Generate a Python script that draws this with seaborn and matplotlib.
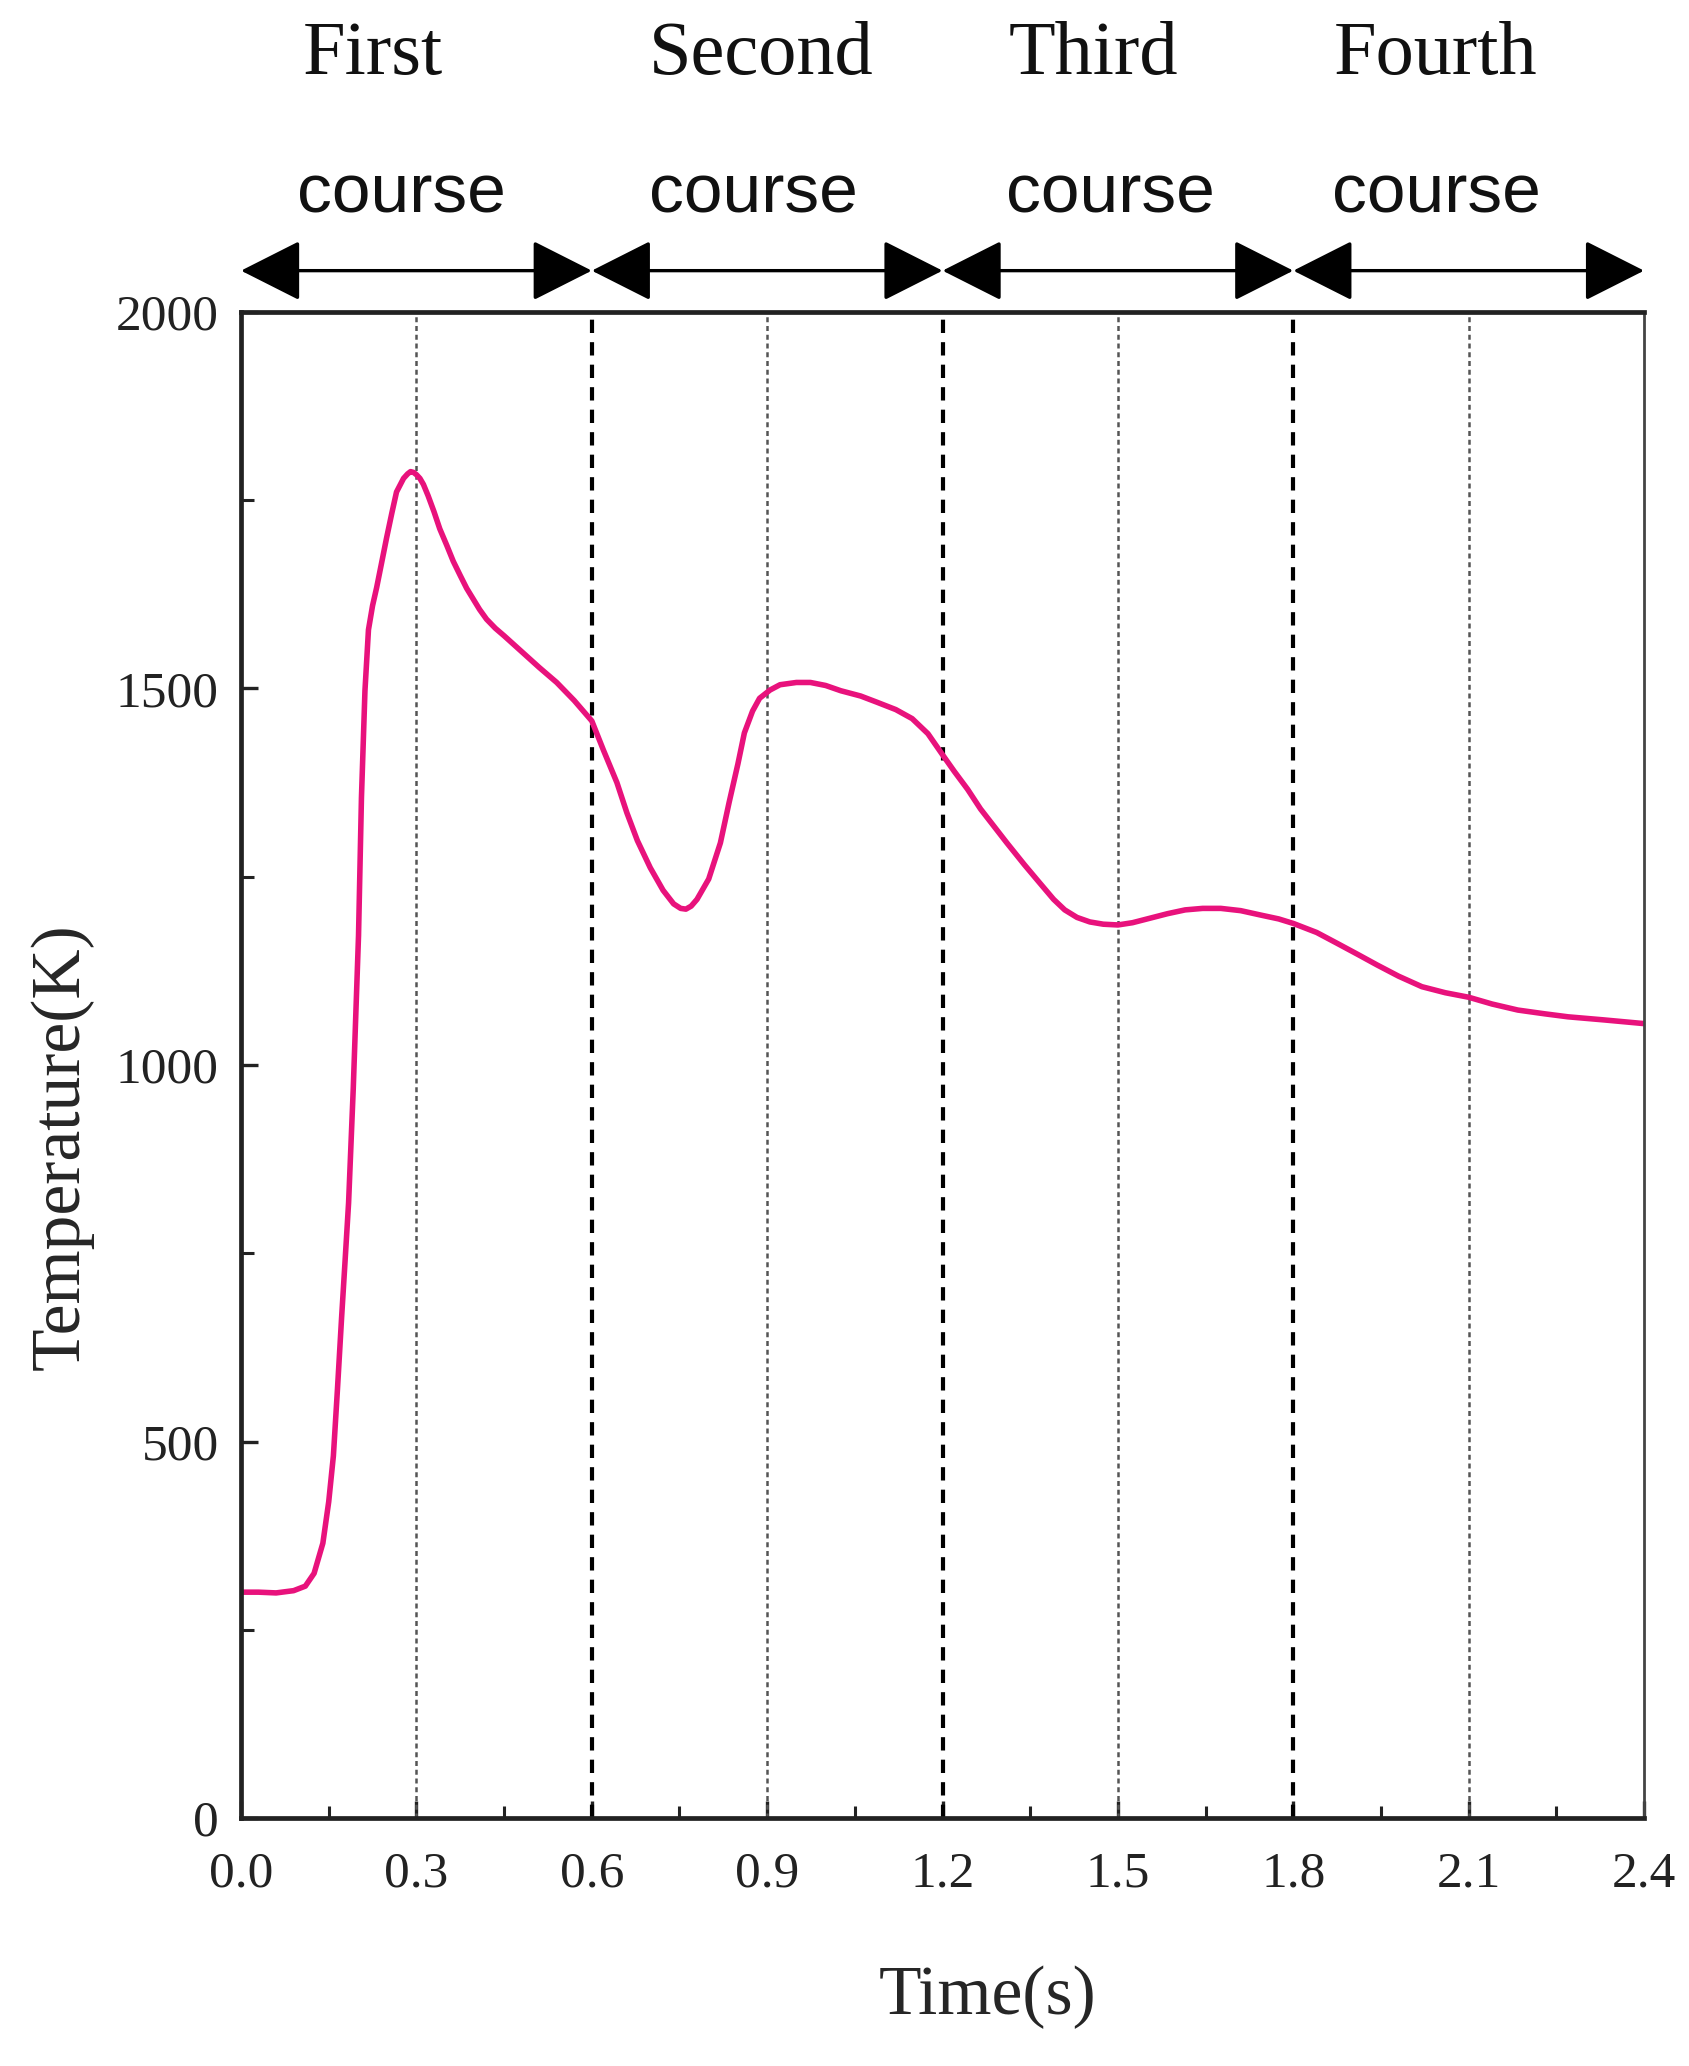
import numpy as np
import matplotlib
matplotlib.use("Agg")
import matplotlib.pyplot as plt
import matplotlib.transforms as mtransforms
import seaborn as sns

# temperature history
time_s = [0.0, 0.03, 0.06, 0.09, 0.11, 0.125, 0.14, 0.15, 0.158, 0.165,
          0.172, 0.178, 0.184, 0.192, 0.201, 0.206, 0.212, 0.218, 0.225, 0.232,
          0.24, 0.249, 0.258, 0.266, 0.278, 0.285, 0.29, 0.295, 0.3, 0.306,
          0.312, 0.32, 0.33, 0.34, 0.352, 0.363,
          0.375, 0.386, 0.397, 0.408, 0.42, 0.435, 0.45, 0.48, 0.51, 0.54, 0.57, 0.6, 0.62,
          0.643, 0.66, 0.678, 0.7, 0.722, 0.74, 0.752, 0.761, 0.77, 0.78, 0.8, 0.82,
          0.835, 0.85, 0.861, 0.875, 0.887, 0.905, 0.922, 0.95, 0.974, 1.0,
          1.026, 1.06, 1.087, 1.12, 1.148, 1.175, 1.2, 1.22, 1.243, 1.265,
          1.287, 1.31, 1.34, 1.366, 1.39, 1.409, 1.43, 1.452, 1.475, 1.5,
          1.525, 1.555, 1.585, 1.615, 1.645, 1.676, 1.71, 1.745, 1.775, 1.8,
          1.84, 1.874, 1.91, 1.943, 1.98, 2.02, 2.06, 2.1, 2.14, 2.184,
          2.23, 2.27, 2.33, 2.4]
temp_K = [300, 300, 299, 302, 308, 325, 365, 420, 481, 570,
          664, 740, 817, 969, 1172, 1355, 1497, 1578, 1610, 1634,
          1665, 1700, 1733, 1761, 1779, 1785, 1788, 1787, 1784, 1779,
          1771, 1756, 1735, 1712, 1690, 1669,
          1650, 1633, 1619, 1605, 1592, 1580, 1570, 1549, 1528, 1508, 1484, 1457, 1418,
          1375, 1335, 1298, 1262, 1232, 1214, 1208, 1207, 1211, 1220, 1247, 1295,
          1349, 1400, 1441, 1470, 1487, 1498, 1505, 1508, 1508, 1504,
          1497, 1490, 1482, 1472, 1460, 1440, 1412, 1390, 1366, 1340,
          1318, 1295, 1266, 1242, 1220, 1206, 1196, 1190, 1187, 1186,
          1189, 1195, 1201, 1206, 1208, 1208, 1205, 1199, 1194, 1188,
          1176, 1162, 1147, 1133, 1118, 1104, 1096, 1090, 1081, 1073,
          1068, 1064, 1060, 1055]

course_bounds = [0.0, 0.6, 1.2, 1.8, 2.4]
course_names = ["First", "Second", "Third", "Fourth"]
mid_lines = [0.3, 0.9, 1.5, 2.1]
x_ticks = [0.0, 0.3, 0.6, 0.9, 1.2, 1.5, 1.8, 2.1, 2.4]
y_ticks = [0, 500, 1000, 1500, 2000]

# label centres (time units) as placed in the original picture
name_pos = [0.225, 0.89, 1.458, 2.044]
word_pos = [0.275, 0.877, 1.487, 2.044]

sns.set_style("ticks")
plt.rcParams["font.family"] = ["Liberation Serif", "DejaVu Serif"]
plt.rcParams["xtick.direction"] = "in"
plt.rcParams["ytick.direction"] = "in"

fig = plt.figure(figsize=(16.89, 20.66), dpi=100)
ax = fig.add_axes([0.1427, 0.12, 0.8307, 0.729])

sns.lineplot(x=time_s, y=temp_K, ax=ax, color="#e8127c", linewidth=4.0)

for x in mid_lines:
    ax.axvline(x, color="#555555", lw=1.8, ls=(0, (2, 1.5)), zorder=1)
for x in course_bounds[1:-1]:
    ax.axvline(x, color="black", lw=3.0, ls=(0, (3.2, 2.2)), zorder=1)

ax.set_xlim(0, 2.4)
ax.set_ylim(0, 2000)
ax.set_xticks(x_ticks)
ax.set_xticklabels([f"{v:.1f}" for v in x_ticks])
ax.set_yticks(y_ticks)
ax.set_xticks(np.arange(0.15, 2.4, 0.3), minor=True)
ax.set_yticks([250, 750, 1250, 1750], minor=True)
ax.tick_params(axis="both", which="major", length=12, width=2.4,
               labelsize=37, colors="#222222")
ax.tick_params(axis="x", which="major", pad=24)
ax.tick_params(axis="y", which="major", pad=16)
ax.tick_params(axis="both", which="minor", length=9, width=2.2, colors="#222222")
ax.tick_params(top=False, right=False, which="both")

for side in ["left", "bottom", "top"]:
    ax.spines[side].set_linewidth(3.4)
    ax.spines[side].set_color("#222222")
ax.spines["right"].set_linewidth(2.0)
ax.spines["right"].set_color("#444444")

ax.set_xlabel("Time(s)", fontsize=50)
ax.xaxis.set_label_coords(0.532, -0.098)
ax.set_ylabel("Temperature(K)", fontsize=50)
ax.yaxis.set_label_coords(-0.105, 0.446)

# course arrows and labels above the plot
trans = mtransforms.blended_transform_factory(ax.transData, fig.transFigure)
for i, name in enumerate(course_names):
    x0, x1 = course_bounds[i], course_bounds[i + 1]
    ax.annotate("", xy=(x1, 0.869), xytext=(x0, 0.869),
                xycoords=trans, textcoords=trans, annotation_clip=False,
                arrowprops=dict(arrowstyle="<|-|>,head_length=0.95,head_width=0.48",
                                mutation_scale=40, color="black", lw=2.4,
                                shrinkA=0, shrinkB=0))
    ax.text(name_pos[i], 0.964, name, transform=trans, ha="center", va="baseline",
            fontsize=55, color="#111111")
    ax.text(word_pos[i], 0.897, "course", transform=trans,
            ha="center", va="baseline", fontsize=50, color="#111111",
            family=["Liberation Sans", "DejaVu Sans"])

fig.savefig("out.png", dpi=100)
